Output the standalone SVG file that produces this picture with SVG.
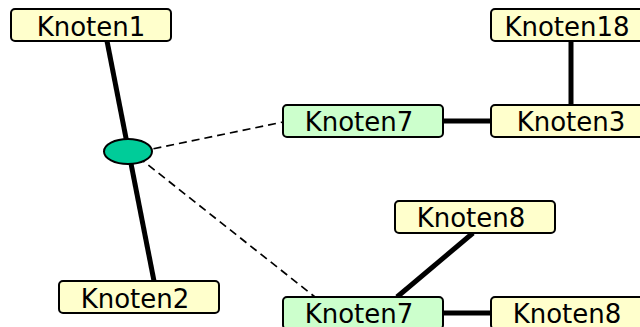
<svg xmlns="http://www.w3.org/2000/svg" width="640" height="327" viewBox="0 0 640 327">
<style>
.box{stroke:#000;stroke-width:2}
.y{fill:#ffffcc}
.g{fill:#ccffcc}
.t{font-family:"DejaVu Sans",Verdana,sans-serif;font-size:26px;fill:#000;text-anchor:middle}
.thick{stroke:#000;stroke-width:5;fill:none}
.dash{stroke:#000;stroke-width:1.7;stroke-dasharray:8,5;fill:none}
</style>
<rect width="640" height="327" fill="#fff"/>
<g id="connectors">
<line class="thick" x1="107" y1="41" x2="154" y2="281"/>
<line class="thick" x1="571" y1="41" x2="571" y2="105"/>
<line class="thick" x1="443" y1="121" x2="491" y2="121"/>
<line class="thick" x1="473" y1="233" x2="397" y2="297"/>
<line class="thick" x1="443" y1="313" x2="491" y2="313"/>
<line class="dash" x1="128" y1="154" x2="283" y2="122"/>
<line class="dash" x1="128" y1="149" x2="315" y2="297"/>
</g>
<g id="hub"><ellipse cx="128" cy="151.5" rx="24" ry="12.5" fill="#00cc99" stroke="#000" stroke-width="2"/></g>
<g id="knoten1"><rect class="box y" x="11" y="9" width="160" height="32" rx="4"/><text class="t" x="91" y="36">Knoten1</text></g>
<g id="knoten2"><rect class="box y" x="59" y="281" width="160" height="32" rx="4"/><text class="t" x="135" y="308">Knoten2</text></g>
<g id="knoten7a"><rect class="box g" x="283" y="105" width="160" height="32" rx="4"/><text class="t" x="359" y="131">Knoten7</text></g>
<g id="knoten3"><rect class="box y" x="491" y="105" width="160" height="32" rx="4"/><text class="t" x="571" y="131">Knoten3</text></g>
<g id="knoten18"><rect class="box y" x="491" y="9" width="160" height="32" rx="4"/><text class="t" x="567" y="36">Knoten18</text></g>
<g id="knoten8a"><rect class="box y" x="395" y="201" width="160" height="32" rx="4"/><text class="t" x="471" y="227">Knoten8</text></g>
<g id="knoten7b"><rect class="box g" x="283" y="297" width="160" height="32" rx="4"/><text class="t" x="359" y="323">Knoten7</text></g>
<g id="knoten8b"><rect class="box y" x="491" y="297" width="160" height="32" rx="4"/><text class="t" x="567" y="323">Knoten8</text></g>
</svg>
